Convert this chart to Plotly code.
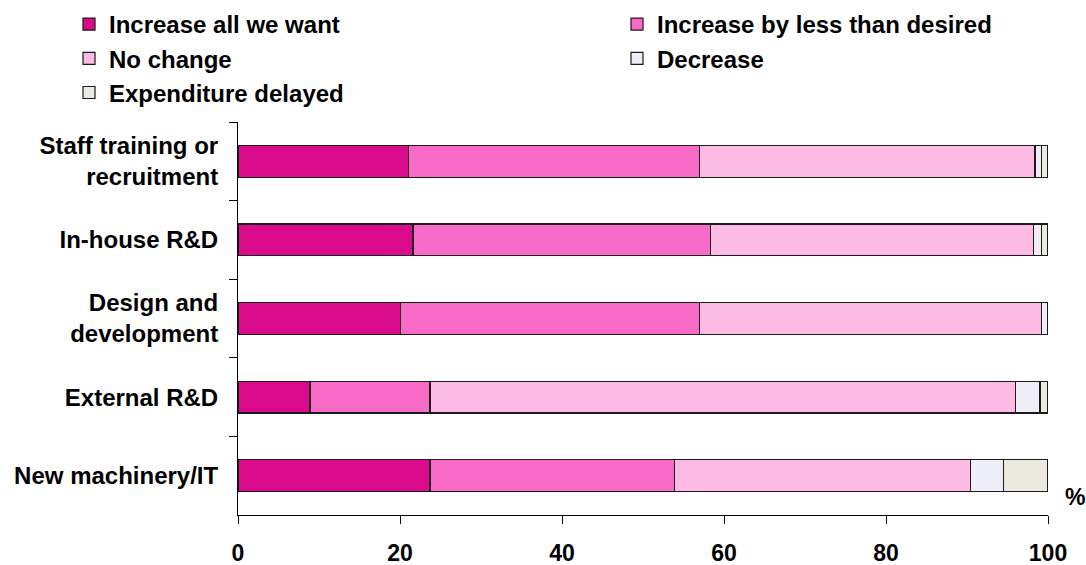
import plotly.graph_objects as go

categories = ["Staff training or<br>recruitment", "In-house R&D", "Design and<br>development",
              "External R&D", "New machinery/IT"]
series_names = ["Increase all we want", "Increase by less than desired", "No change",
                "Decrease", "Expenditure delayed"]
increase_all = [21.0, 21.6, 20.1, 8.9, 23.7]
increase_less = [36.0, 36.7, 36.9, 14.8, 30.2]
no_change = [41.4, 39.9, 42.2, 72.3, 36.5]
decrease = [0.8, 1.0, 0.8, 3.0, 4.1]
delayed = [0.8, 0.8, 0.0, 1.0, 5.5]
x_ticks = [0, 20, 40, 60, 80, 100]

colors = ["#D90B8C", "#F76AC6", "#FDBAE4", "#EEEEF8", "#ECEAE0"]
values = [increase_all, increase_less, no_change, decrease, delayed]
legend_ids = ["legend", "legend2", "legend", "legend2", "legend"]

fig = go.Figure()
for name, vals, col, lg in zip(series_names, values, colors, legend_ids):
    fig.add_trace(go.Bar(
        y=categories, x=vals, name=name, orientation="h",
        marker=dict(color=col, line=dict(color="#1a1a1a", width=1.2)),
        width=0.405, legend=lg,
    ))

font_family = "Liberation Sans, Arial, sans-serif"
legend_common = dict(
    orientation="v", xref="container", yref="container",
    y=1 - 2 / 565, xanchor="left", yanchor="top",
    font=dict(size=24, family=font_family, weight="bold"),
    traceorder="normal", itemwidth=30, bgcolor="rgba(0,0,0,0)",
)
fig.update_layout(
    barmode="stack",
    width=1086, height=565,
    margin=dict(l=238, r=38, t=122, b=50, autoexpand=False),
    paper_bgcolor="white", plot_bgcolor="white",
    font=dict(family=font_family, color="black"),
    showlegend=True,
    legend=dict(x=69 / 1086, **legend_common),
    legend2=dict(x=617 / 1086, **legend_common),
    xaxis=dict(
        range=[0, 100], tickvals=x_ticks, ticks="outside", ticklen=8,
        tickcolor="black", showline=True, linecolor="black", linewidth=1,
        showgrid=False, zeroline=False,
        tickfont=dict(size=23, family=font_family, weight="bold"),
        ticklabelstandoff=9,
    ),
    yaxis=dict(
        autorange="reversed", ticks="outside", ticklen=8, tickson="boundaries",
        tickcolor="black", showline=True, linecolor="black", linewidth=1,
        showgrid=False, zeroline=False,
        tickfont=dict(size=24, family=font_family, weight="bold"),
        ticklabelstandoff=14,
    ),
    annotations=[dict(
        text="%", x=1.0, y=0.046, xref="paper", yref="paper",
        xanchor="left", yanchor="middle", xshift=15, showarrow=False,
        font=dict(size=23, family=font_family, weight="bold"),
    )],
)

fig.write_html("out.html")
